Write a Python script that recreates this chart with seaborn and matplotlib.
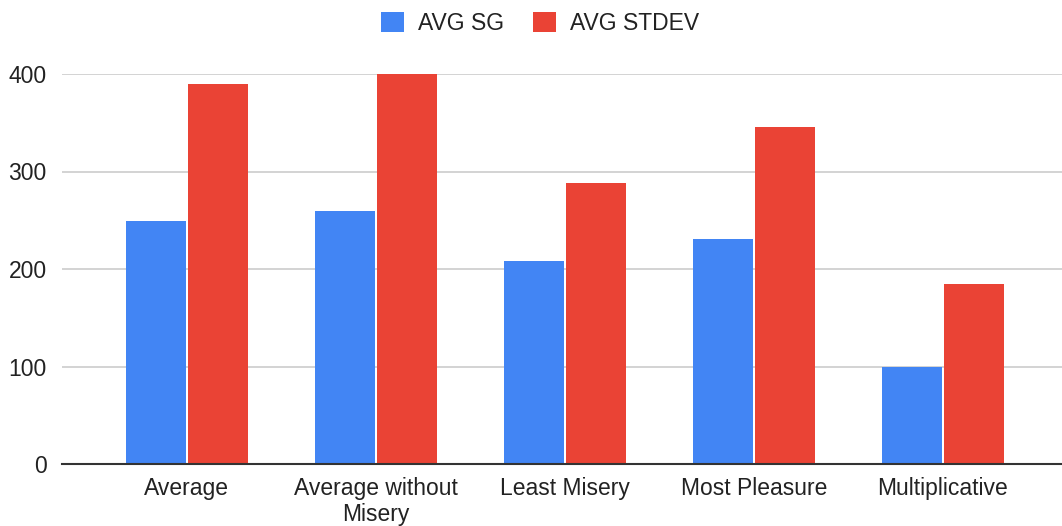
import matplotlib
matplotlib.use("Agg")
import matplotlib.pyplot as plt
import matplotlib.transforms as mtransforms
import seaborn as sns
import pandas as pd

categories = ["Average", "Average without\nMisery", "Least Misery", "Most Pleasure", "Multiplicative"]
avg_sg = [249, 259, 208, 231, 100]
avg_stdev = [390, 400, 288, 346, 185]
series_names = ["AVG SG", "AVG STDEV"]
yticks = [0, 100, 200, 300, 400]

df = pd.DataFrame({
    "category": categories * 2,
    "series": [series_names[0]] * len(categories) + [series_names[1]] * len(categories),
    "value": avg_sg + avg_stdev,
})

sns.set_theme(style="white")
plt.rcParams["font.family"] = ["Liberation Sans", "DejaVu Sans"]

W, H = 1062, 526
fig = plt.figure(figsize=(W / 100, H / 100), dpi=100)
left, right, top, bottom = 62, 1062, 74, 464
ax = fig.add_axes([left / W, (H - bottom) / H, (right - left) / W, (bottom - top) / H])

sns.barplot(data=df, x="category", y="value", hue="series", order=categories,
            hue_order=series_names, palette=["#4285F4", "#EA4335"],
            width=0.65, gap=0.02, saturation=1, linewidth=0, ax=ax, legend=True)

for p in ax.patches:
    p.set_clip_on(False)

ax.set_xlim(-0.661, 4.63)
ax.set_ylim(0, 400)
ax.set_yticks(yticks)
ax.set_yticklabels([str(v) for v in yticks], fontsize=16.5, color="#222222")
ax.tick_params(axis="y", length=0, pad=11)
ax.tick_params(axis="x", length=0)
ax.set_xticklabels([])
ax.set_xlabel("")
ax.set_ylabel("")

# category labels, each line placed on a common baseline below the axis
base = mtransforms.blended_transform_factory(ax.transData, ax.transAxes)
for i, label in enumerate(categories):
    for j, line in enumerate(label.split("\n")):
        off = mtransforms.ScaledTranslation(0, -(31 + 26.5 * j) / 100, fig.dpi_scale_trans)
        ax.text(i, 0, line, transform=base + off, ha="center", va="baseline",
                fontsize=16.5, color="#222222")

ax.yaxis.grid(True, color="#cccccc", linewidth=1.2)
ax.set_axisbelow(True)
for s in ["top", "right", "left"]:
    ax.spines[s].set_visible(False)
ax.spines["bottom"].set_color("#333333")
ax.spines["bottom"].set_linewidth(1.5)

ax.legend(loc="center", bbox_to_anchor=(0.478, 1.13), ncol=2, frameon=False,
          fontsize=16.5, handlelength=1.0, handleheight=1.0, handletextpad=0.6,
          columnspacing=1.27, labelcolor="#222222")

fig.savefig("out.png", dpi=100)
